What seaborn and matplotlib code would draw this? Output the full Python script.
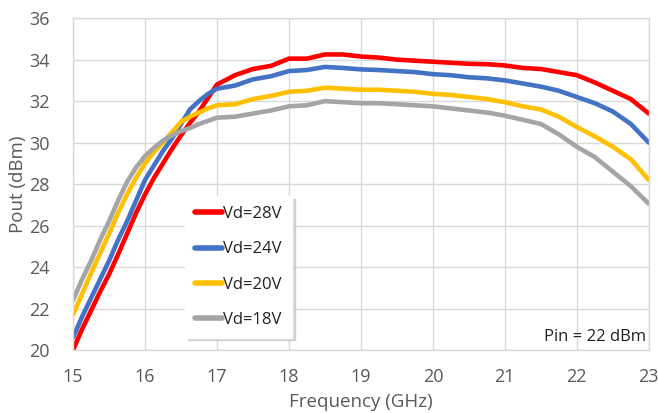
import numpy as np
import pandas as pd
import matplotlib
matplotlib.use("Agg")
import matplotlib.pyplot as plt
import seaborn as sns

# Frequency grid (GHz) and Pout (dBm) for each drain voltage
freq = [15.0, 15.125, 15.25, 15.375, 15.5, 15.625, 15.75, 15.875, 16.0, 16.125,
        16.25, 16.375, 16.5, 16.625, 16.75, 16.875, 17.0, 17.25, 17.5, 17.75,
        18.0, 18.25, 18.5, 18.75, 19.0, 19.25, 19.5, 19.75, 20.0, 20.25, 20.5, 20.75,
        21.0, 21.25, 21.5, 21.75, 22.0, 22.25, 22.5, 22.75, 23.0]
vd28 = [20.0, 21.0, 21.9, 22.8, 23.65, 24.6, 25.6, 26.6, 27.5, 28.3,
        29.0, 29.7, 30.35, 30.95, 31.5, 32.15, 32.8, 33.25, 33.55, 33.7,
        34.05, 34.05, 34.25, 34.25, 34.15, 34.1, 34.0, 33.95, 33.9, 33.85, 33.8, 33.78,
        33.72, 33.6, 33.55, 33.4, 33.25, 32.9, 32.5, 32.1, 31.4]
vd24 = [20.6, 21.6, 22.5, 23.4, 24.3, 25.3, 26.2, 27.2, 28.2, 28.9,
        29.6, 30.2, 30.9, 31.6, 32.0, 32.35, 32.6, 32.75, 33.05, 33.2,
        33.45, 33.5, 33.65, 33.6, 33.53, 33.5, 33.45, 33.4, 33.3, 33.25, 33.15, 33.1,
        33.0, 32.85, 32.7, 32.5, 32.2, 31.9, 31.5, 30.9, 30.0]
vd20 = [21.7, 22.7, 23.7, 24.65, 25.6, 26.6, 27.5, 28.3, 29.0, 29.55,
        30.0, 30.5, 31.0, 31.25, 31.45, 31.65, 31.8, 31.85, 32.1, 32.25,
        32.45, 32.5, 32.65, 32.6, 32.55, 32.55, 32.5, 32.45, 32.35, 32.3, 32.2, 32.1,
        31.95, 31.75, 31.6, 31.25, 30.75, 30.3, 29.8, 29.2, 28.2]
vd18 = [22.4, 23.4, 24.3, 25.3, 26.2, 27.2, 28.1, 28.8, 29.35, 29.75,
        30.1, 30.35, 30.55, 30.7, 30.9, 31.05, 31.2, 31.25, 31.4, 31.55,
        31.75, 31.8, 32.0, 31.95, 31.9, 31.9, 31.85, 31.8, 31.75, 31.65, 31.55, 31.45,
        31.3, 31.1, 30.9, 30.4, 29.8, 29.3, 28.6, 27.9, 27.05]

labels = ["Vd=28V", "Vd=24V", "Vd=20V", "Vd=18V"]
colors = ["#FF0000", "#4472C4", "#FFC000", "#A5A5A5"]

frames = []
for lab, vals in zip(labels, [vd28, vd24, vd20, vd18]):
    frames.append(pd.DataFrame({"freq": freq, "pout": vals, "bias": lab}))
df = pd.concat(frames, ignore_index=True)

sns.set_style("whitegrid")
plt.rcParams["font.family"] = ["Open Sans", "DejaVu Sans"]

fig = plt.figure(figsize=(6.58, 4.13), dpi=100)
ax = fig.add_axes([0.111, 0.1525, 0.875, 0.8035])

sns.lineplot(data=df, x="freq", y="pout", hue="bias", hue_order=labels,
             palette=colors, linewidth=3.3, ax=ax, legend=True)

ax.set_xlim(15, 23)
ax.set_ylim(20, 36)
ax.set_xticks(range(15, 24))
ax.set_yticks(range(20, 37, 2))
ax.grid(True, color="#D9D9D9", linewidth=1)
for s in ax.spines.values():
    s.set_color("#D9D9D9")
    s.set_linewidth(1)
ax.tick_params(axis="both", length=0, labelsize=13, colors="#595959")
ax.tick_params(axis="x", pad=13)
ax.tick_params(axis="y", pad=17)
ax.set_xlabel("Frequency (GHz)", fontsize=13.5, color="#595959", labelpad=5)
ax.set_ylabel("Pout (dBm)", fontsize=13.5, color="#595959", labelpad=1)

leg = ax.legend(loc="lower left", bbox_to_anchor=(0.18, 0.012), fontsize=12,
                frameon=True, shadow={"color": "#BFBFBF", "alpha": 0.6},
                fancybox=False, handlelength=1.6, handletextpad=0.1,
                labelspacing=1.15, borderpad=0.6, edgecolor="white")
for line in leg.get_lines():
    line.set_linewidth(4)
for t in leg.get_texts():
    t.set_color("#222222")

ax.text(0.995, 0.015, "Pin = 22 dBm", transform=ax.transAxes, ha="right",
        va="bottom", fontsize=12, color="#222222")

fig.savefig("out.png", dpi=100)
